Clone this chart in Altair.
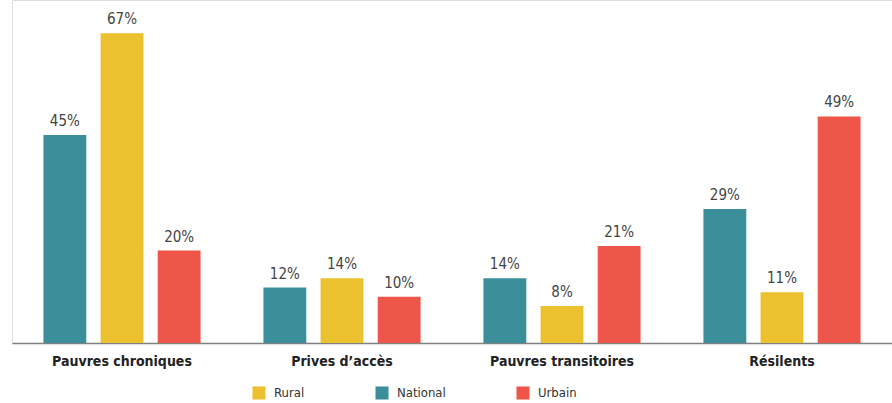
import altair as alt
import pandas as pd

categories = ["Pauvres chroniques", "Prives d\u2019acc\u00e8s", "Pauvres transitoires", "R\u00e9silents"]
national = [45, 12, 14, 29]
rural = [67, 14, 8, 11]
urbain = [20, 10, 21, 49]
series_order = ["National", "Rural", "Urbain"]
legend_order = ["Rural", "National", "Urbain"]
colors = {"Rural": "#EBC12F", "National": "#3A8F9B", "Urbain": "#EE564A"}

rows = []
for i, c in enumerate(categories):
    for s, vals in zip(series_order, [national, rural, urbain]):
        rows.append({"cat": c, "serie": s, "val": vals[i], "label": f"{vals[i]}%"})
df = pd.DataFrame(rows)

FONT = "'DejaVu Sans Condensed', 'Liberation Sans Narrow', Roboto, sans-serif"

x = alt.X("cat:N", sort=categories, title=None,
          scale=alt.Scale(paddingInner=0, paddingOuter=0),
          axis=alt.Axis(labelAngle=0, ticks=False, domainColor="#808080", domainWidth=1.5,
                        labelFont=FONT, labelFontSize=14, labelFontWeight="bold",
                        labelColor="#222222", labelPadding=11))
xo = alt.XOffset("serie:N", sort=series_order,
                 scale=alt.Scale(paddingInner=0.25, paddingOuter=0.55))
y = alt.Y("val:Q", scale=alt.Scale(domain=[0, 74.2], nice=False, zero=True), axis=None)

base = alt.Chart(df).encode(x=x, xOffset=xo, y=y)

bars = base.mark_bar().encode(
    color=alt.Color("serie:N",
                    scale=alt.Scale(domain=legend_order, range=[colors[k] for k in legend_order]),
                    legend=alt.Legend(title=None, orient="none", legendX=240, legendY=386,
                                      direction="horizontal", symbolType="square",
                                      symbolSize=170, symbolStrokeWidth=0, symbolOpacity=1,
                                      labelFont=FONT, labelFontSize=13, labelColor="#333333",
                                      columnPadding=70, labelOffset=8))
)

labels = base.mark_text(baseline="bottom", dy=-6, font=FONT, fontSize=15,
                        color="#444444").encode(text="label:N")

chart = alt.layer(bars, labels).properties(
    width=880, height=343,
    padding={"left": 12, "top": 0, "right": 0, "bottom": 60}
).configure_view(stroke=None).configure(background="white")

chart.save("out.html", embed_options={"renderer": "svg", "actions": False})
